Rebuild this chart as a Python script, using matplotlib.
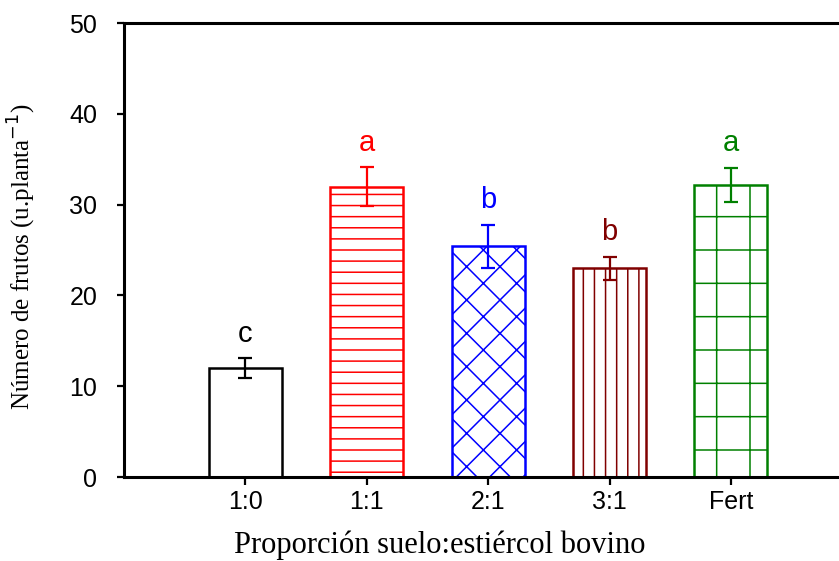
import matplotlib
matplotlib.use("Agg")
import matplotlib.pyplot as plt

# data
categories = ["1:0", "1:1", "2:1", "3:1", "Fert"]
means = [12.0, 32.0, 25.4, 23.0, 32.2]
errors = [1.1, 2.1, 2.4, 1.25, 1.85]
letters = ["c", "a", "b", "b", "a"]

colors = ["black", "#ff0000", "#0000ff", "#800000", "#008000"]
hatches = ["", "---", "xx", "|||", "+"]

plt.rcParams["hatch.linewidth"] = 0.55

DPI = 200
fig = plt.figure(figsize=(839 / DPI, 561 / DPI), dpi=DPI)
ax = fig.add_axes([0.1478, 0.1497, 0.868, 0.809])

x = list(range(len(categories)))
for i in x:
    ax.bar(i, means[i], width=0.6, facecolor="white", edgecolor=colors[i],
           hatch=hatches[i], linewidth=0.9, zorder=2)
    ax.errorbar(i, means[i], yerr=errors[i], fmt="none", ecolor=colors[i],
                elinewidth=0.8, capsize=2.6, capthick=0.8, zorder=3)
    ax.text(i, means[i] + errors[i] + 2.7, letters[i], color=colors[i],
            ha="center", va="center", fontsize=10.5, family="Liberation Sans")

ax.set_xlim(-1, 5)
ax.set_ylim(0, 50)
ax.set_yticks([0, 10, 20, 30, 40, 50])
ax.set_xticks(x)
ax.set_xticklabels(categories)

for s in ["left", "bottom", "top"]:
    ax.spines[s].set_linewidth(1.1)
ax.spines["right"].set_visible(False)

ax.tick_params(axis="y", direction="out", length=2.6, width=0.8, pad=7,
               labelsize=9)
ax.tick_params(axis="x", direction="out", length=2.8, width=0.8, pad=1.8,
               labelsize=9)
for lab in ax.get_xticklabels() + ax.get_yticklabels():
    lab.set_family("Liberation Sans")

ax.set_ylabel("Número de frutos (u.planta$^{-1}$)", family="Liberation Serif",
              fontsize=9)
ax.yaxis.set_label_coords(-0.118, 0.485)
ax.set_xlabel("Proporción suelo:estiércol bovino", family="Liberation Serif",
              fontsize=11)
ax.xaxis.set_label_coords(0.434, -0.118)

fig.savefig("out.png", dpi=DPI)
